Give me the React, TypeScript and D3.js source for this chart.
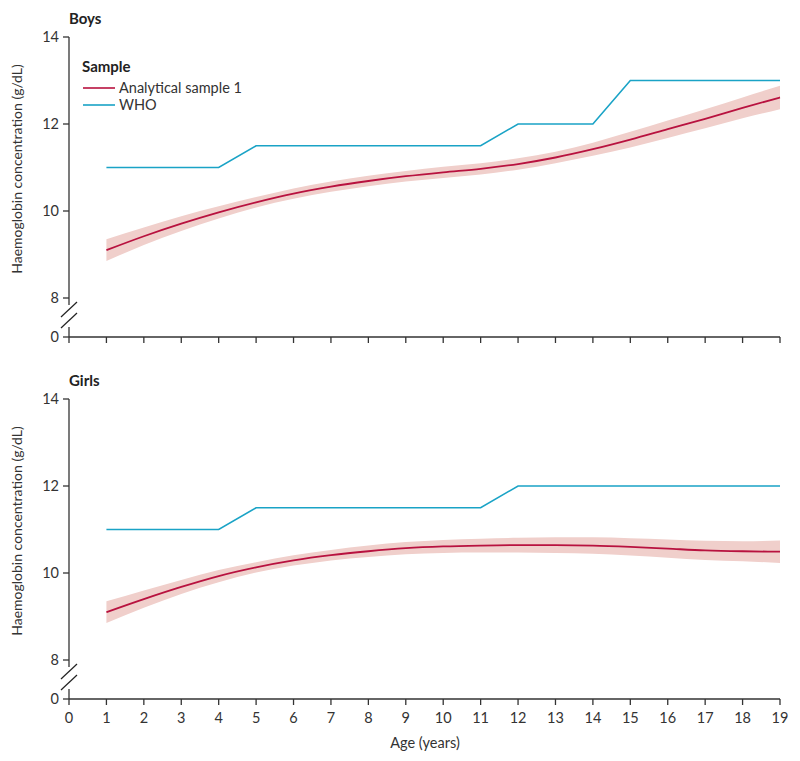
import React from "react";
import * as d3 from "d3";

// ages in years
const ages = [1, 2, 3, 4, 5, 6, 7, 8, 9, 10, 11, 12, 13, 14, 15, 16, 17, 18, 19];
const xTicks = [0, 1, 2, 3, 4, 5, 6, 7, 8, 9, 10, 11, 12, 13, 14, 15, 16, 17, 18, 19];
const yTicks = [0, 8, 10, 12, 14];

const boysMean = [9.1, 9.42, 9.71, 9.97, 10.2, 10.4, 10.56, 10.69, 10.8, 10.89, 10.97, 11.08, 11.23, 11.42, 11.64, 11.88, 12.12, 12.37, 12.61];
const boysLower = [8.85, 9.22, 9.54, 9.83, 10.08, 10.28, 10.44, 10.57, 10.68, 10.76, 10.84, 10.95, 11.1, 11.27, 11.46, 11.68, 11.9, 12.13, 12.34];
const boysUpper = [9.35, 9.62, 9.88, 10.11, 10.32, 10.52, 10.68, 10.81, 10.92, 11.02, 11.1, 11.21, 11.36, 11.57, 11.82, 12.08, 12.34, 12.61, 12.88];
const boysWho = [11, 11, 11, 11, 11.5, 11.5, 11.5, 11.5, 11.5, 11.5, 11.5, 12, 12, 12, 13, 13, 13, 13, 13];

const girlsMean = [9.1, 9.4, 9.68, 9.93, 10.13, 10.29, 10.41, 10.5, 10.57, 10.61, 10.63, 10.64, 10.64, 10.63, 10.6, 10.56, 10.52, 10.5, 10.49];
const girlsLower = [8.85, 9.2, 9.52, 9.79, 10.01, 10.17, 10.29, 10.37, 10.43, 10.46, 10.47, 10.47, 10.46, 10.44, 10.4, 10.35, 10.3, 10.27, 10.23];
const girlsUpper = [9.35, 9.6, 9.84, 10.07, 10.25, 10.41, 10.53, 10.63, 10.71, 10.76, 10.79, 10.81, 10.82, 10.82, 10.8, 10.77, 10.74, 10.73, 10.75];
const girlsWho = [11, 11, 11, 11, 11.5, 11.5, 11.5, 11.5, 11.5, 11.5, 11.5, 12, 12, 12, 12, 12, 12, 12, 12];

const RED = "#b8123f";
const BAND = "#f0cfcb";
const BLUE = "#1aa3c6";
const AXIS = "#333";
const FONT = "Lato, 'Noto Sans', sans-serif";

const x = d3.scaleLinear().domain([0, 19]).range([69, 780]);

function Panel({ title, top, mean, lower, upper, who, legend, labels }) {
  // piecewise y scale with axis break between 0 and 8
  const y = d3.scaleLinear().domain([0, 8, 14]).range([top + 300, top + 261, top]);
  const line = d3.line<number>().x((d, i) => x(ages[i])).y((d) => y(d)).curve(d3.curveMonotoneX);
  const whoLine = d3.line<number>().x((d, i) => x(ages[i])).y((d) => y(d));
  const band = d3
    .area<number>()
    .x((d, i) => x(ages[i]))
    .y0((d, i) => y(lower[i]))
    .y1((d, i) => y(upper[i]))
    .curve(d3.curveMonotoneX);
  const y0 = y(0);
  const y8 = y(8);
  return (
    <g>
      <text x={69} y={top - 13} fontFamily={FONT} fontSize={15} fontWeight="bold" fill="#222">
        {title}
      </text>
      <path d={band(mean) || ""} fill={BAND} />
      <path d={whoLine(who) || ""} fill="none" stroke={BLUE} strokeWidth={1.6} />
      <path d={line(mean) || ""} fill="none" stroke={RED} strokeWidth={1.8} />
      {/* y axis with break */}
      <line x1={69} x2={69} y1={y(14)} y2={y8 + 7} stroke={AXIS} strokeWidth={1.3} />
      <line x1={69} x2={69} y1={y0 - 10} y2={y0} stroke={AXIS} strokeWidth={1.3} />
      <line x1={61} x2={77} y1={y8 + 19} y2={y8 + 4} stroke="#222" strokeWidth={1.2} />
      <line x1={61} x2={77} y1={y8 + 30} y2={y8 + 15} stroke="#222" strokeWidth={1.2} />
      {yTicks.map((t) => (
        <g key={t}>
          <line x1={63} x2={69} y1={y(t)} y2={y(t)} stroke={AXIS} strokeWidth={1.3} />
          <text x={59} y={y(t)} dy="0.36em" textAnchor="end" fontFamily={FONT} fontSize={14.5} fill="#333">
            {t}
          </text>
        </g>
      ))}
      {/* x axis */}
      <line x1={69} x2={x(19)} y1={y0} y2={y0} stroke={AXIS} strokeWidth={1.3} />
      {xTicks.map((t) => (
        <g key={t}>
          <line x1={x(t)} x2={x(t)} y1={y0} y2={y0 + 6} stroke={AXIS} strokeWidth={1.3} />
          {labels && (
            <text x={x(t)} y={y0 + 24} textAnchor="middle" fontFamily={FONT} fontSize={14.5} fill="#333">
              {t}
            </text>
          )}
        </g>
      ))}
      <text
        transform={`translate(22, ${top + 132}) rotate(-90)`}
        textAnchor="middle"
        fontFamily={FONT}
        fontSize={14}
        fill="#333"
      >
        Haemoglobin concentration (g/dL)
      </text>
      {legend && (
        <g fontFamily={FONT} fill="#333">
          <text x={82} y={top + 35} fontSize={15} fontWeight="bold" fill="#222">
            Sample
          </text>
          <line x1={83} x2={115} y1={top + 51} y2={top + 51} stroke={RED} strokeWidth={1.6} />
          <text x={119} y={top + 51} dy="0.36em" fontSize={14.5}>
            Analytical sample 1
          </text>
          <line x1={83} x2={115} y1={top + 68} y2={top + 68} stroke={BLUE} strokeWidth={1.6} />
          <text x={119} y={top + 68} dy="0.36em" fontSize={14.5}>
            WHO
          </text>
        </g>
      )}
    </g>
  );
}

export default function App() {
  return (
    <svg width={800} height={761} style={{ position: "absolute", left: 0, top: 0, background: "#fff" }}>
      <Panel title="Boys" top={37} mean={boysMean} lower={boysLower} upper={boysUpper} who={boysWho} legend labels={false} />
      <Panel title="Girls" top={399} mean={girlsMean} lower={girlsLower} upper={girlsUpper} who={girlsWho} legend={false} labels />
      <text x={425} y={748} textAnchor="middle" fontFamily={FONT} fontSize={14.5} fill="#333">
        Age (years)
      </text>
    </svg>
  );
}
